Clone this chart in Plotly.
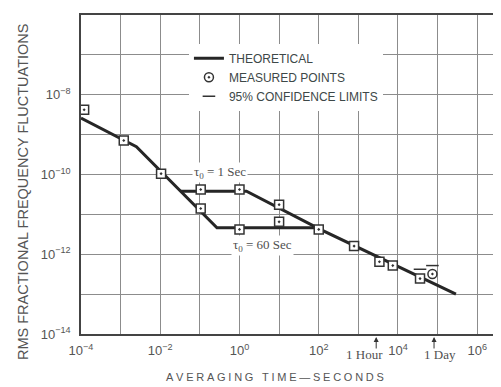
import plotly.graph_objects as go

# theoretical curve (tau0 = 60 sec branch is the main line)
theory_tau = [1e-4, 1.15e-3, 2.5e-3, 0.27, 90, 2.9e5]
theory_sigma = [2.6e-9, 7.6e-10, 5.0e-10, 4.6e-12, 4.6e-12, 1.0e-13]

# tau0 = 1 sec branch
tau1_tau = [3.3e-2, 1.5, 95]
tau1_sigma = [3.8e-11, 3.8e-11, 4.5e-12]

# measured points drawn as squares
sq_tau = [1.2e-4, 1.2e-3, 1.05e-2, 0.105, 1.0, 0.105, 1.0, 10, 10, 100, 780, 3400, 7400, 3.6e4]
sq_sigma = [4.2e-9, 7.1e-10, 1.05e-10, 4.2e-11, 4.2e-11, 1.4e-11, 4.2e-12, 1.75e-11,
            6.5e-12, 4.2e-12, 1.6e-12, 6.5e-13, 5.2e-13, 2.45e-13]

# measured point drawn as circle
circ_tau = [7.4e4]
circ_sigma = [3.2e-13]

# upper 95% confidence limits
conf_tau = [3.6e4, 7.4e4]
conf_sigma = [4.2e-13, 5.2e-13]

x_tickvals = [10.0 ** e for e in range(-4, 7)]
x_ticktext = ["10<sup>%s</sup>" % (str(e).replace("-", "−")) if e % 2 == 0 else "" for e in range(-4, 7)]
y_tickvals = [10.0 ** e for e in range(-14, -5)]
y_ticktext = ["10<sup>%s</sup>" % (str(e).replace("-", "−")) if e % 2 == 0 and e < -6 else "" for e in range(-14, -5)]

line_col = "#262626"
mark_col = "#333333"
grid_col = "#8c8c8c"
text_col = "#4a4a4a"


def spaced(s, gap="\u2005"):
    # widen letter spacing like the original typesetting
    return " ".join(gap.join(w) for w in s.split(" ")).replace(" ", gap + " " + gap)


fig = go.Figure()

fig.add_trace(go.Scatter(x=theory_tau, y=theory_sigma, mode="lines", name="THEORETICAL",
                         line=dict(color=line_col, width=3)))
fig.add_trace(go.Scatter(x=tau1_tau, y=tau1_sigma, mode="lines", showlegend=False,
                         line=dict(color=line_col, width=3)))
fig.add_trace(go.Scatter(x=sq_tau, y=sq_sigma, mode="markers", showlegend=False,
                         marker=dict(symbol="square-dot", size=9, color="white",
                                     line=dict(color=mark_col, width=1.5))))
fig.add_trace(go.Scatter(x=circ_tau, y=circ_sigma, mode="markers", name="MEASURED POINTS",
                         marker=dict(symbol="circle-dot", size=9, color="white",
                                     line=dict(color=mark_col, width=1.5))))
fig.add_trace(go.Scatter(x=conf_tau, y=conf_sigma, mode="markers", name="95% CONFIDENCE LIMITS",
                         marker=dict(symbol="line-ew", size=9,
                                     line=dict(color=mark_col, width=1.5))))

serif = dict(family="Liberation Serif", size=13, color="#505050")
ann = [
    dict(x=-0.49, y=-9.96, text="τ<sub>0</sub> = 1 Sec", showarrow=False, bgcolor="white", font=serif),
    dict(x=0.57, y=-11.77, text="τ<sub>0</sub> = 60 Sec", showarrow=False, bgcolor="white", font=serif),
    # arrows for 1 hour / 1 day
    dict(x=3.45, y=-0.0094, yref="paper", text="", showarrow=True, ax=0, ay=13,
         arrowhead=2, arrowsize=1, arrowwidth=1, arrowcolor="#333"),
    dict(x=4.91, y=-0.0094, yref="paper", text="", showarrow=True, ax=0, ay=13,
         arrowhead=2, arrowsize=1, arrowwidth=1, arrowcolor="#333"),
    dict(x=3.15, y=-0.095, yref="paper", text="1 Hour", showarrow=False, font=serif),
    dict(x=5.07, y=-0.095, yref="paper", text="1 Day", showarrow=False, font=serif),
    # axis titles
    dict(x=0.462, y=-0.16, xref="paper", yref="paper",
         text=spaced("AVERAGING TIME—SECONDS"),
         showarrow=False, font=dict(family="Liberation Sans", size=11, color="#555")),
    dict(x=-0.162, y=0.445, xref="paper", yref="paper", textangle=-90,
         text="RMS FRACTIONAL FREQUENCY FLUCTUATIONS",
         showarrow=False, font=dict(family="Liberation Sans", size=14.5, color="#555")),
]

# page body adds an 8px offset, margins below compensate for it
fig.update_layout(
    width=501, height=387,
    margin=dict(l=73, r=8, t=7, b=61),
    paper_bgcolor="white", plot_bgcolor="white",
    font=dict(family="Liberation Sans", size=11, color=text_col),
    legend=dict(x=0.257, y=0.91, xanchor="left", yanchor="top", bgcolor="white",
                font=dict(family="Liberation Sans", size=12, color="#3d4848"),
                itemwidth=30, tracegroupgap=0),
    annotations=ann,
)
fig.update_xaxes(type="log", range=[-4, 6.6], tickvals=x_tickvals, ticktext=x_ticktext,
                 showgrid=True, gridcolor=grid_col, gridwidth=1, zeroline=False,
                 showline=True, linecolor="#444", linewidth=1.5, mirror=True,
                 ticks="", ticklabelstandoff=4, automargin=False,
                 tickfont=dict(family="Liberation Sans", size=13, color="#555"))
fig.update_yaxes(type="log", range=[-14, -6], tickvals=y_tickvals, ticktext=y_ticktext,
                 showgrid=True, gridcolor=grid_col, gridwidth=1, zeroline=False,
                 showline=True, linecolor="#444", linewidth=1.5, mirror=True,
                 ticks="", ticklabelstandoff=6, automargin=False,
                 tickfont=dict(family="Liberation Sans", size=13, color="#555"))

fig.write_html("out.html")
